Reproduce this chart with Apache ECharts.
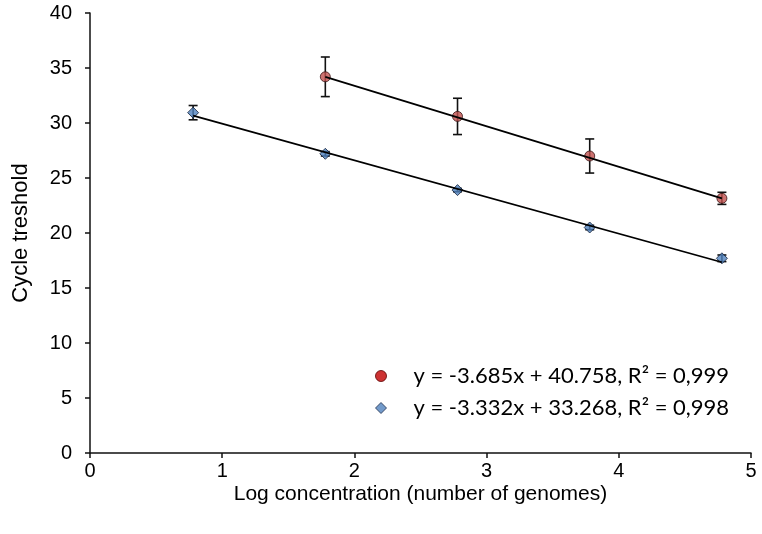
<!DOCTYPE html>
<html><head><meta charset="utf-8">
<script src="https://cdn.jsdelivr.net/npm/echarts@6/dist/echarts.min.js"></script>
<style>html,body{margin:0;padding:0;background:#fff}#c{width:762px;height:534px}</style>
</head><body><div id="c"></div>
<script>
// Data
const redX = [1.78, 2.78, 3.78, 4.78];
const redY = [34.2, 30.6, 27.0, 23.15];
const redErr = [1.8, 1.65, 1.55, 0.55];
const blueX = [0.78, 1.78, 2.78, 3.78, 4.78];
const blueY = [30.94, 27.2, 23.9, 20.5, 17.7];
const blueErr = [0.65, 0.2, 0.15, 0.2, 0.3];
// Trendline coefficients shown in the legend: [slope, intercept]
const redFit = [-3.685, 40.758];
const blueFit = [-3.332, 33.268];
const legendLabels = ['y = -3.685x + 40.758, R² = 0,999', 'y = -3.332x + 33.268, R² = 0,998'];
const xTicks = [0, 1, 2, 3, 4, 5];
const yTicks = [0, 5, 10, 15, 20, 25, 30, 35, 40];

const pts = (xs, ys) => xs.map((x, i) => [x, ys[i]]);
const errs = (xs, ys, es) => xs.map((x, i) => [x, ys[i] - es[i], ys[i] + es[i]]);
const fitLine = (xs, f) => [xs[0], xs[xs.length - 1]].map(x => [x, f[0] * x + f[1]]);

function errItem(params, api) {
  const x = api.value(0), lo = api.value(1), hi = api.value(2);
  const a = api.coord([x, lo]), b = api.coord([x, hi]);
  const w = 4.5;
  const style = { stroke: '#111', lineWidth: 1.6 };
  return { type: 'group', children: [
    { type: 'line', shape: { x1: a[0], y1: a[1], x2: b[0], y2: b[1] }, style },
    { type: 'line', shape: { x1: a[0] - w, y1: a[1], x2: a[0] + w, y2: a[1] }, style },
    { type: 'line', shape: { x1: b[0] - w, y1: b[1], x2: b[0] + w, y2: b[1] }, style }
  ]};
}

const chart = echarts.init(document.getElementById('c'), null, { renderer: 'canvas' });
const ff = 'Liberation Sans, Arial, sans-serif';
chart.setOption({
  animation: false,
  backgroundColor: '#fff',
  grid: { left: 90, right: 11, top: 13, bottom: 81, containLabel: false },
  xAxis: {
    type: 'value', min: xTicks[0], max: xTicks[xTicks.length - 1], interval: 1,
    name: 'Log concentration (number of genomes)', nameLocation: 'middle', nameGap: 31,
    nameMoveOverlap: false,
    nameTextStyle: { fontFamily: ff, fontSize: 21, color: '#000' },
    axisLine: { show: true, onZero: false, lineStyle: { color: '#111', width: 1.5 } },
    axisTick: { show: true, inside: false, length: 5, lineStyle: { color: '#111', width: 1.5 } },
    axisLabel: { margin: 8, fontFamily: ff, fontSize: 20, color: '#000' },
    splitLine: { show: false }
  },
  yAxis: {
    type: 'value', min: yTicks[0], max: yTicks[yTicks.length - 1], interval: 5,
    name: 'Cycle treshold', nameLocation: 'middle', nameGap: 58, nameRotate: 90,
    nameMoveOverlap: false,
    nameTextStyle: { fontFamily: ff, fontSize: 22, color: '#000' },
    axisLine: { show: true, lineStyle: { color: '#111', width: 1.5 } },
    axisTick: { show: true, inside: false, length: 5, lineStyle: { color: '#111', width: 1.5 } },
    axisLabel: { margin: 18, fontFamily: ff, fontSize: 20, color: '#000' },
    splitLine: { show: false }
  },
  legend: {
    orient: 'vertical', left: 370, top: 359, itemGap: 8,
    itemWidth: 11, itemHeight: 11,
    data: [
      { name: legendLabels[0], icon: 'circle', itemStyle: { color: '#c00000', borderColor: '#5a0000', borderWidth: 1 } },
      { name: legendLabels[1], icon: 'diamond', itemStyle: { color: '#4f81bd', borderColor: '#1f2f4f', borderWidth: 1 } }
    ],
    textStyle: { fontFamily: 'Lato, Open Sans, sans-serif', fontSize: 22, lineHeight: 24, color: '#000', padding: [0, 0, 0, 22] }
  },
  series: [
    { type: 'custom', name: 'redErr', renderItem: errItem, data: errs(redX, redY, redErr), z: 2 },
    { type: 'custom', name: 'blueErr', renderItem: errItem, data: errs(blueX, blueY, blueErr), z: 2 },
    { type: 'scatter', name: legendLabels[0], symbol: 'circle', symbolSize: 10, data: pts(redX, redY),
      itemStyle: { color: '#c0504d', borderColor: '#3a1414', borderWidth: 1 }, z: 3 },
    { type: 'scatter', name: legendLabels[1], symbol: 'diamond', symbolSize: 11, data: pts(blueX, blueY),
      itemStyle: { color: '#4f81bd', borderColor: '#14203a', borderWidth: 1 }, z: 3 },
    { type: 'line', name: 'redFit', data: fitLine(redX, redFit), showSymbol: false, symbol: 'none',
      lineStyle: { color: '#000', width: 1.8 }, z: 4 },
    { type: 'line', name: 'blueFit', data: fitLine(blueX, blueFit), showSymbol: false, symbol: 'none',
      lineStyle: { color: '#000', width: 1.8 }, z: 4 }
  ]
});
</script></body></html>
